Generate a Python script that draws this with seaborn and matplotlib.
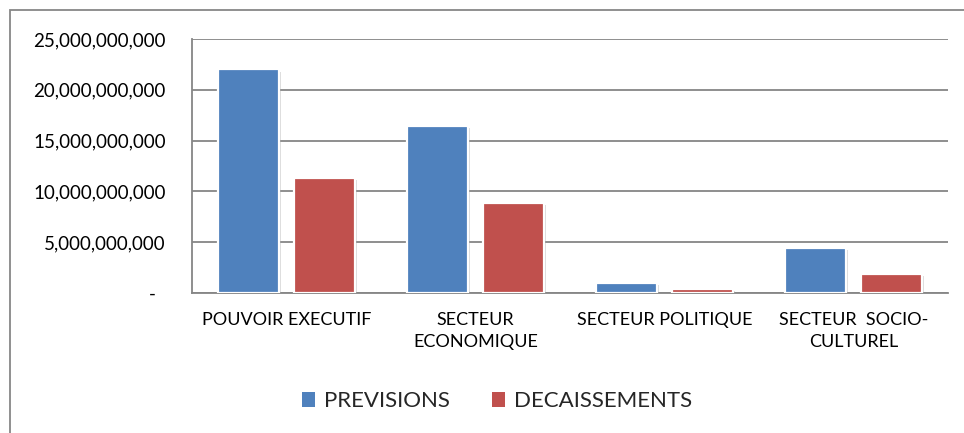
import matplotlib
matplotlib.use("Agg")
import matplotlib.pyplot as plt
import matplotlib.patheffects as pe
from matplotlib.patches import Rectangle, Patch
from matplotlib.ticker import FuncFormatter
import seaborn as sns
import pandas as pd

# Budget by sector: forecasts versus disbursements
categories = ["POUVOIR EXECUTIF", "SECTEUR\nECONOMIQUE", "SECTEUR POLITIQUE", "SECTEUR  SOCIO-\nCULTUREL"]
previsions = [22.0e9, 16.47e9, 0.95e9, 4.40e9]
decaissements = [11.29e9, 8.83e9, 0.39e9, 1.87e9]
series_names = ["PREVISIONS", "DECAISSEMENTS"]
y_ticks = [0, 5e9, 10e9, 15e9, 20e9, 25e9]

colors = ["#4F81BD", "#C0504D"]
grid_color = "#868686"

df = pd.DataFrame({
    "categorie": categories * 2,
    "serie": [series_names[0]] * len(categories) + [series_names[1]] * len(categories),
    "montant": previsions + decaissements,
})

sns.set_theme(style="white")
plt.rcParams["font.family"] = ["Lato", "DejaVu Sans"]

fig = plt.figure(figsize=(9.64, 4.33), dpi=100)
ax = fig.add_axes([192 / 964, 1 - 293 / 433, (948 - 192) / 964, (293 - 39) / 433])

sns.barplot(data=df, x="categorie", y="montant", hue="serie", order=categories,
            hue_order=series_names, palette=colors, width=0.8, gap=0.2,
            saturation=1, ax=ax, legend=False, zorder=3)

for bar in ax.patches:
    bar.set_edgecolor("white")
    bar.set_linewidth(1.6)
    bar.set_path_effects([
        pe.SimplePatchShadow(offset=(1.5, -1.5), shadow_rgbFace="#9a9a9a", alpha=0.35),
        pe.Normal(),
    ])

ax.set_ylim(0, 25e9)
ax.set_xlim(-0.5, len(categories) - 0.5)
ax.set_yticks(y_ticks)
ax.yaxis.set_major_formatter(FuncFormatter(lambda v, p: "-  " if v == 0 else f"{v:,.0f}"))
ax.grid(axis="y", color=grid_color, linewidth=1.3, zorder=0)
ax.set_axisbelow(True)

for side in ["top", "right"]:
    ax.spines[side].set_visible(False)
for side in ["left", "bottom"]:
    ax.spines[side].set_color(grid_color)
    ax.spines[side].set_linewidth(1.3)

ax.tick_params(axis="y", length=0, pad=19, labelsize=13.5, labelcolor="black")
ax.tick_params(axis="x", length=0, pad=14, labelsize=13, labelcolor="black")
for lbl in ax.get_xticklabels():
    lbl.set_linespacing(1.45)
ax.set_xlabel("")
ax.set_ylabel("")

handles = [Patch(facecolor=c, edgecolor="none") for c in colors]
fig.legend(handles, series_names, loc="center", bbox_to_anchor=(497 / 964, 1 - 401 / 433),
           ncol=2, frameon=False, fontsize=16, handlelength=0.6, handleheight=0.65,
           handletextpad=0.4, columnspacing=1.9)

# Outer chart frame
fig.patches.append(Rectangle((10 / 964, -0.2), 1.2, 1 - 10 / 433 + 0.2,
                             transform=fig.transFigure, fill=False,
                             edgecolor="#878787", linewidth=1.3, clip_on=False))

fig.savefig("out.png", dpi=100, facecolor="white")
